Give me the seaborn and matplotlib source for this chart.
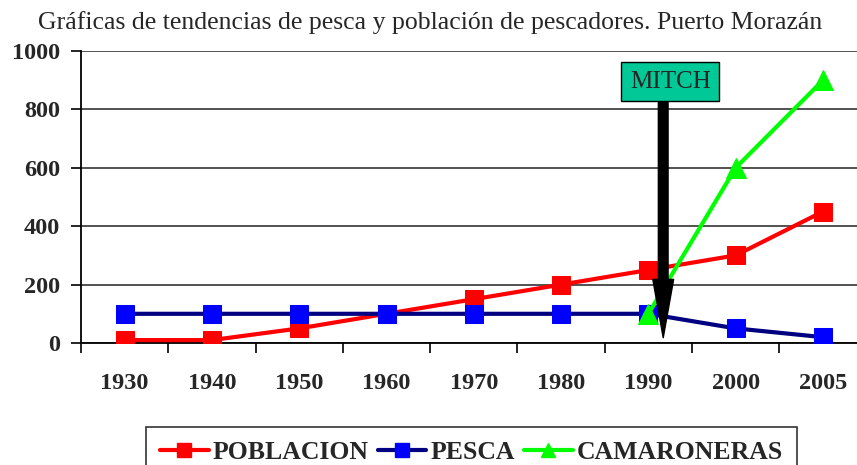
import numpy as np
import pandas as pd
import seaborn as sns
import matplotlib.pyplot as plt
from matplotlib.lines import Line2D


YEARS = ['1930', '1940', '1950', '1960', '1970', '1980', '1990', '2000', '2005']
POBLACION = [10, 10, 50, 100, 150, 200, 250, 300, 450]
PESCA = [100, 100, 100, 100, 100, 100, 100, 50, 20]
CAMARONERAS = [np.nan, np.nan, np.nan, np.nan, np.nan, np.nan, 100, 600, 900]
Y_TICKS = [0, 200, 400, 600, 800, 1000]

TITLE = 'Gráficas de tendencias de pesca y población de pescadores. Puerto Morazán'
SERIF = 'Liberation Serif'


def build_frame():
    pos = np.arange(len(YEARS))
    df = pd.DataFrame({'pos': pos, 'POBLACION': POBLACION,
                       'PESCA': PESCA, 'CAMARONERAS': CAMARONERAS})
    return df


def draw(df):
    sns.set_style('white')
    plt.rcParams['font.family'] = [SERIF, 'DejaVu Serif']

    fig = plt.figure(figsize=(8.57, 4.65), dpi=100)
    ax = fig.add_axes([81 / 857, 1 - 343 / 465, 1 - 81 / 857, (343 - 51) / 465])

    # series: name, line colour, marker colour, marker, marker size
    series = [('POBLACION', '#ff0000', '#ff0000', 's', 13),
              ('PESCA', '#000080', '#0000ff', 's', 13),
              ('CAMARONERAS', '#00ff00', '#00ff00', '^', 14)]
    for name, lc, mc, mk, ms in series:
        sns.lineplot(data=df.dropna(subset=[name]), x='pos', y=name, ax=ax,
                     color=lc, linewidth=3, marker=mk, markersize=ms,
                     markerfacecolor=mc, markeredgecolor=mc, zorder=3)

    ax.set_xlabel('')
    ax.set_ylabel('')

    # y axis: outward ticks, gridlines at each tick
    ax.set_yticks(Y_TICKS)
    ax.set_yticklabels([str(v) for v in Y_TICKS], fontweight='bold', fontsize=17.5)
    ax.tick_params(axis='y', direction='out', length=7, width=1.2, left=True,
                   color='black', pad=8)
    ax.yaxis.grid(True, color='#222222', linewidth=1.1)

    # x axis: labels at centres, tick marks at category boundaries
    ax.set_xticks(np.arange(len(YEARS)))
    ax.set_xticklabels(YEARS, fontweight='bold', fontsize=17.5)
    ax.set_xticks(np.arange(len(YEARS) + 1) - 0.5, minor=True)
    ax.tick_params(axis='x', which='major', length=0, pad=21.5)
    ax.tick_params(axis='x', which='minor', direction='out', length=7,
                   width=1.2, bottom=True, color='black')

    ax.set_xlim(-0.5, 8.39)
    ax.set_ylim(0, 1000)

    for side in ['top', 'right']:
        ax.spines[side].set_visible(False)
    for side in ['left', 'bottom']:
        ax.spines[side].set_color('black')
        ax.spines[side].set_linewidth(1.3)

    # hurricane Mitch annotation
    ax.text(6.25, 895, 'MITCH', fontsize=18, ha='center', va='center', zorder=7,
            bbox=dict(boxstyle='square,pad=0.35', fc='#00c896', ec='black', lw=1))
    ax.annotate('', xy=(6.17, 18), xytext=(6.17, 840), zorder=6,
                arrowprops=dict(facecolor='black', edgecolor='black', width=7,
                                headwidth=15, headlength=42, shrink=0))

    fig.text(0.502, 0.952, TITLE, ha='center', va='center', fontsize=18.5)

    handles = [Line2D([], [], color=lc, lw=3, marker=mk, markersize=ms * 0.75,
                      markerfacecolor=mc, markeredgecolor=mc)
               for _, lc, mc, mk, ms in series]
    leg = fig.legend(handles, [s[0] for s in series], loc='upper center',
                     bbox_to_anchor=(0.550, 1 - 427 / 465), ncol=3, frameon=True,
                     fancybox=False, edgecolor='black', handlelength=1.9,
                     handletextpad=0.15, columnspacing=0.35, borderpad=0.55,
                     borderaxespad=0,
                     prop={'family': SERIF, 'weight': 'bold', 'size': 18.5})
    leg.get_frame().set_linewidth(1.2)

    fig.savefig('out.png', dpi=100)


if __name__ == '__main__':
    draw(build_frame())
